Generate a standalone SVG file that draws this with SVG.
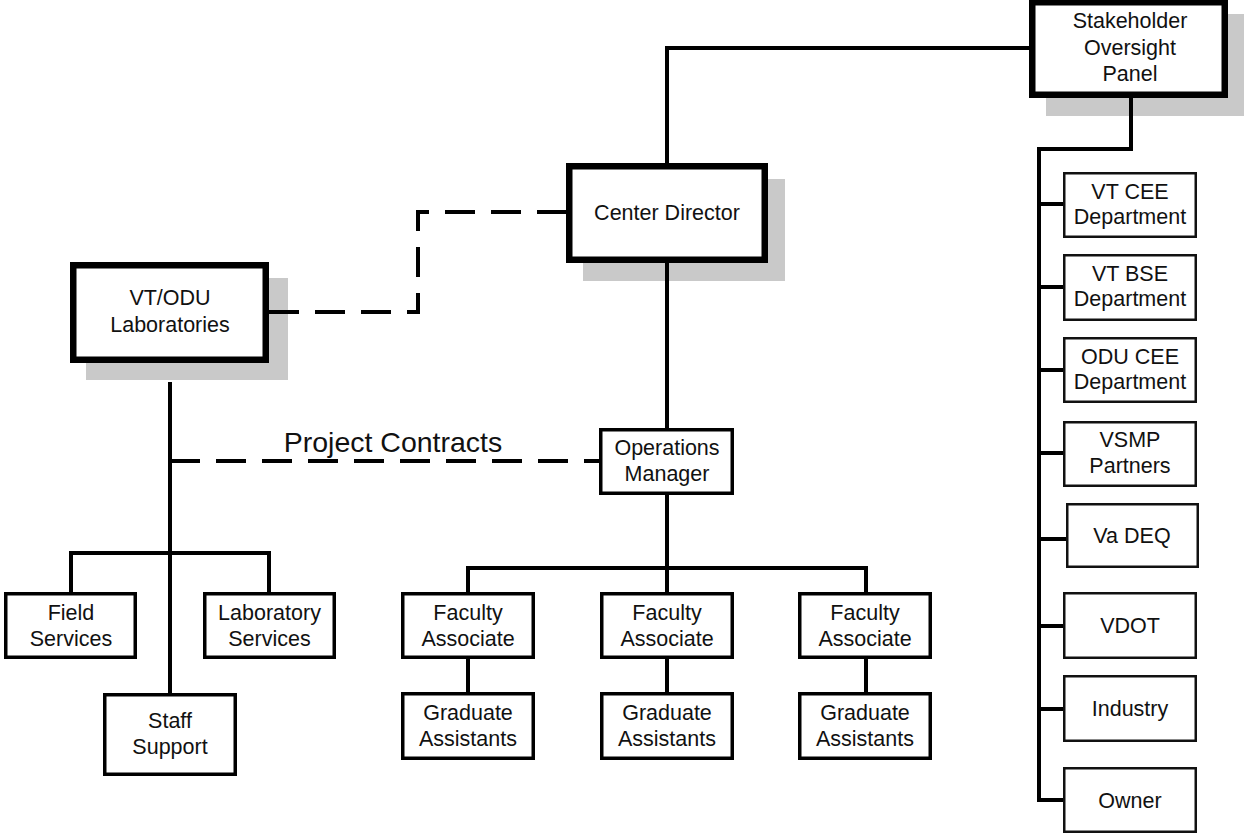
<svg xmlns="http://www.w3.org/2000/svg" width="1244" height="834" viewBox="0 0 1244 834">
<style>
  text { font-family: "Liberation Sans", Arial, sans-serif; font-size: 21.5px; fill: #111; text-anchor: middle; }
  .shadow { fill: #c9c9c9; stroke: none; }
  .thick { fill: #fff; stroke: #000; stroke-width: 6.5; }
  .mid { fill: #fff; stroke: #000; stroke-width: 3.5; }
  .thin { fill: #fff; stroke: #111; stroke-width: 2.5; }
  .conn { fill: none; stroke: #000; stroke-width: 4; }
  .dash { fill: none; stroke: #000; stroke-width: 4; stroke-dasharray: 30 16; }
  .label { font-size: 28.5px; }
</style>
<rect width="1244" height="834" fill="#fff"/>

<!-- shadows -->
<rect class="shadow" x="1046" y="14" width="199" height="102"/>
<rect class="shadow" x="583" y="179" width="202" height="102"/>
<rect class="shadow" x="86" y="278" width="202" height="102"/>

<g id="connectors">
  <path class="conn" d="M667 163 V48 H1029"/>
  <path class="conn" d="M1131 98 V149 H1039 V800 H1063"/>
  <path class="conn" d="M1039 204 H1063 M1039 287 H1063 M1039 370 H1063 M1039 453 H1063 M1039 539 H1066 M1039 626 H1063 M1039 709 H1063"/>
  <path class="conn" d="M667 263 V428"/>
  <path class="conn" d="M667 495 V592 M468 592 V568 H866 V592"/>
  <path class="conn" d="M468 659 V692 M667 659 V692 M866 659 V692"/>
  <path class="conn" d="M170 382 V693 M71 592 V553 H269 V592"/>
  <path class="dash" d="M269 312 H418 V212 H566"/>
  <path class="dash" d="M170 461 H599"/>
  <text class="label" x="393" y="452">Project Contracts</text>
</g>

<g id="stakeholder">
  <rect class="thick" x="1032.25" y="2.25" width="192.5" height="92.5"/>
  <text x="1130" y="28">Stakeholder</text>
  <text x="1130" y="55">Oversight</text>
  <text x="1130" y="81">Panel</text>
</g>

<g id="center-director">
  <rect class="thick" x="569.25" y="166.25" width="195.5" height="93.5"/>
  <text x="667" y="220">Center Director</text>
</g>

<g id="vt-odu-labs">
  <rect class="thick" x="73.25" y="265.25" width="192.5" height="94.5"/>
  <text x="170" y="305">VT/ODU</text>
  <text x="170" y="332">Laboratories</text>
</g>

<g id="operations-manager">
  <rect class="mid" x="600.75" y="429.75" width="131.5" height="63.5"/>
  <text x="667" y="455">Operations</text>
  <text x="667" y="481">Manager</text>
</g>

<g id="field-services">
  <rect class="mid" x="5.75" y="593.75" width="129.5" height="63.5"/>
  <text x="71" y="620">Field</text>
  <text x="71" y="646">Services</text>
</g>

<g id="laboratory-services">
  <rect class="mid" x="204.75" y="593.75" width="129.5" height="63.5"/>
  <text x="269.5" y="620">Laboratory</text>
  <text x="269.5" y="646">Services</text>
</g>

<g id="staff-support">
  <rect class="mid" x="104.75" y="694.75" width="130.5" height="79.5"/>
  <text x="170" y="728">Staff</text>
  <text x="170" y="754">Support</text>
</g>

<g id="faculty-1">
  <rect class="mid" x="402.75" y="593.75" width="130.5" height="63.5"/>
  <text x="468" y="620">Faculty</text>
  <text x="468" y="646">Associate</text>
</g>
<g id="faculty-2">
  <rect class="mid" x="601.75" y="593.75" width="130.5" height="63.5"/>
  <text x="667" y="620">Faculty</text>
  <text x="667" y="646">Associate</text>
</g>
<g id="faculty-3">
  <rect class="mid" x="799.75" y="593.75" width="130.5" height="63.5"/>
  <text x="865" y="620">Faculty</text>
  <text x="865" y="646">Associate</text>
</g>

<g id="graduate-1">
  <rect class="mid" x="402.75" y="693.75" width="130.5" height="64.5"/>
  <text x="468" y="720">Graduate</text>
  <text x="468" y="746">Assistants</text>
</g>
<g id="graduate-2">
  <rect class="mid" x="601.75" y="693.75" width="130.5" height="64.5"/>
  <text x="667" y="720">Graduate</text>
  <text x="667" y="746">Assistants</text>
</g>
<g id="graduate-3">
  <rect class="mid" x="799.75" y="693.75" width="130.5" height="64.5"/>
  <text x="865" y="720">Graduate</text>
  <text x="865" y="746">Assistants</text>
</g>

<g id="vt-cee">
  <rect class="thin" x="1064.25" y="173.25" width="131.5" height="63.5"/>
  <text x="1130" y="199">VT CEE</text>
  <text x="1130" y="224">Department</text>
</g>
<g id="vt-bse">
  <rect class="thin" x="1064.25" y="255.25" width="131.5" height="64.5"/>
  <text x="1130" y="281">VT BSE</text>
  <text x="1130" y="306">Department</text>
</g>
<g id="odu-cee">
  <rect class="thin" x="1064.25" y="338.25" width="131.5" height="63.5"/>
  <text x="1130" y="364">ODU CEE</text>
  <text x="1130" y="389">Department</text>
</g>
<g id="vsmp">
  <rect class="thin" x="1064.25" y="422.25" width="131.5" height="63.5"/>
  <text x="1130" y="447">VSMP</text>
  <text x="1130" y="473">Partners</text>
</g>
<g id="va-deq">
  <rect class="thin" x="1067.25" y="504.25" width="130.5" height="62.5"/>
  <text x="1132" y="543">Va DEQ</text>
</g>
<g id="vdot">
  <rect class="thin" x="1064.25" y="593.25" width="131.5" height="64.5"/>
  <text x="1130" y="633">VDOT</text>
</g>
<g id="industry">
  <rect class="thin" x="1064.25" y="676.25" width="131.5" height="64.5"/>
  <text x="1130" y="716">Industry</text>
</g>
<g id="owner">
  <rect class="thin" x="1064.25" y="768.25" width="131.5" height="63.5"/>
  <text x="1130" y="808">Owner</text>
</g>
</svg>
